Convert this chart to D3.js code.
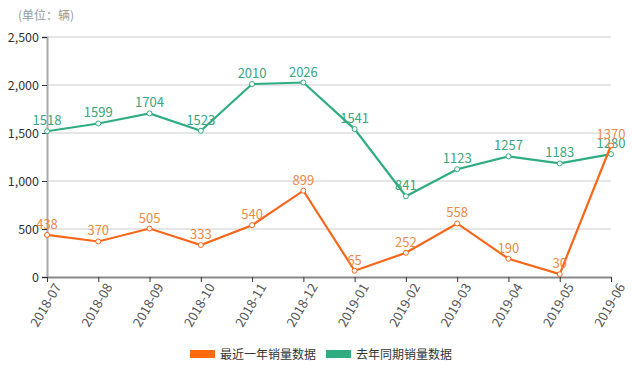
<!DOCTYPE html>
<html>
<head>
<meta charset="utf-8">
<script src="https://cdn.jsdelivr.net/npm/d3@7"></script>
<style>
  body { margin: 0; background: #fff; }
  svg { font-family: "Noto Sans CJK SC", "Noto Sans", sans-serif; }
</style>
</head>
<body>
<script>
// months along the bottom
const months = ["2018-07","2018-08","2018-09","2018-10","2018-11","2018-12",
                "2019-01","2019-02","2019-03","2019-04","2019-05","2019-06"];
// recent year sales
const recentSales = [438, 370, 505, 333, 540, 899, 65, 252, 558, 190, 30, 1370];
// same period last year
const lastYearSales = [1518, 1599, 1704, 1523, 2010, 2026, 1541, 841, 1123, 1257, 1183, 1280];
const yTicks = [0, 500, 1000, 1500, 2000, 2500];
const seriesNames = ["最近一年销量数据", "去年同期销量数据"];

const width = 632, height = 369;
const margin = {left: 47, right: 21, top: 37, bottom: 92};

const svg = d3.select("body").append("svg")
  .attr("width", width)
  .attr("height", height);

const x = d3.scalePoint()
  .domain(months)
  .range([margin.left, width - margin.right]);

const y = d3.scaleLinear()
  .domain([0, 2500])
  .range([height - margin.bottom, margin.top]);

// unit label
svg.append("text")
  .attr("x", 18)
  .attr("y", 20)
  .attr("fill", "#999")
  .style("font-size", "12px")
  .text("(单位：辆)");

// grid lines
svg.append("g")
  .selectAll("line")
  .data(yTicks.slice(1))
  .enter()
  .append("line")
  .attr("x1", margin.left)
  .attr("x2", width - margin.right)
  .attr("y1", d => y(d))
  .attr("y2", d => y(d))
  .attr("stroke", "#ccc")
  .attr("stroke-width", 1);

// y axis
const yAxis = svg.append("g")
  .attr("transform", "translate(" + margin.left + ",0)")
  .call(d3.axisLeft(y).tickValues(yTicks).tickFormat(d3.format(",")).tickSize(5).tickPadding(3));
yAxis.select(".domain").attr("stroke", "#aaa").attr("stroke-width", 2);
yAxis.selectAll(".tick line").attr("stroke", "#333");
yAxis.selectAll("text").attr("fill", "#333").style("font-size", "12.5px")
  .style("font-family", "\"Noto Sans CJK SC\", sans-serif");

// x axis
const xAxis = svg.append("g")
  .attr("transform", "translate(0," + (height - margin.bottom) + ")")
  .call(d3.axisBottom(x).tickSize(5).tickSizeOuter(0));
xAxis.select(".domain").attr("stroke", "#888").attr("stroke-width", 2);
xAxis.selectAll(".tick line").attr("stroke", "#333");
xAxis.selectAll("text")
  .attr("fill", "#555")
  .style("font-size", "13px")
  .style("font-family", "\"Noto Sans CJK SC\", sans-serif")
  .attr("text-anchor", "end")
  .attr("dx", "-0.1em")
  .attr("dy", "0.7em")
  .attr("transform", "rotate(-60)");

const series = [
  {name: seriesNames[1], values: lastYearSales, color: "#30ad80", label: "#3aa57e"},
  {name: seriesNames[0], values: recentSales, color: "#f8661a", label: "#ee8a44"}
];

const line = d3.line()
  .x((d, i) => x(months[i]))
  .y(d => y(d));

series.forEach(s => {
  svg.append("path")
    .datum(s.values)
    .attr("fill", "none")
    .attr("stroke", s.color)
    .attr("stroke-width", 2.2)
    .attr("d", line);

  svg.append("g")
    .selectAll("circle")
    .data(s.values)
    .enter()
    .append("circle")
    .attr("cx", (d, i) => x(months[i]))
    .attr("cy", d => y(d))
    .attr("r", 2.5)
    .attr("fill", "#fff")
    .attr("stroke", s.color)
    .attr("stroke-width", 1);

  svg.append("g")
    .selectAll("text")
    .data(s.values)
    .enter()
    .append("text")
    .attr("x", (d, i) => x(months[i]))
    .attr("y", d => y(d) - 6)
    .attr("text-anchor", "middle")
    .attr("fill", s.label)
    .style("font-size", "13px")
    .text(d => d);
});

// legend
const legend = svg.append("g").attr("transform", "translate(190,350)");
const legendItems = [
  {name: seriesNames[0], color: "#ff6a0f", x: 0},
  {name: seriesNames[1], color: "#30ad80", x: 136}
];
legendItems.forEach(l => {
  legend.append("rect")
    .attr("x", l.x)
    .attr("y", 0)
    .attr("width", 25)
    .attr("height", 8)
    .attr("fill", l.color);
  legend.append("text")
    .attr("x", l.x + 30)
    .attr("y", 9)
    .attr("fill", "#333")
    .style("font-size", "12px")
    .text(l.name);
});
</script>
</body>
</html>
